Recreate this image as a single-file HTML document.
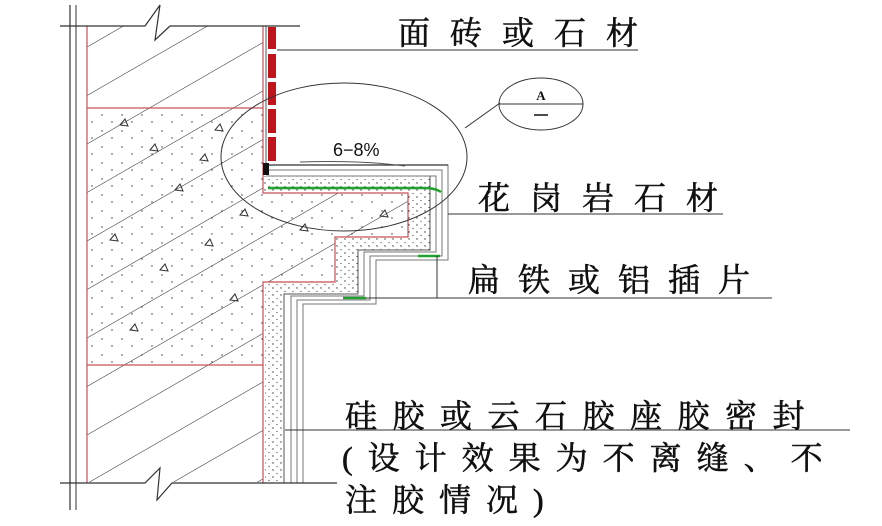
<!DOCTYPE html>
<html><head><meta charset="utf-8"><style>
html,body{margin:0;padding:0;background:#fff;}
svg{display:block;}
.t{font-family:"Liberation Serif","Noto Serif CJK SC","Noto Sans CJK SC",serif;font-size:32px;fill:#111;stroke:#111;stroke-width:0.6;}
</style></head><body>
<svg width="882" height="526" viewBox="0 0 882 526" xmlns="http://www.w3.org/2000/svg">
<defs>
<pattern id="hatch" patternUnits="userSpaceOnUse" width="40" height="42" patternTransform="rotate(-30)">
<line x1="0" y1="0" x2="40" y2="0" stroke="#222" stroke-width="1"/>
</pattern>
<pattern id="dots" patternUnits="userSpaceOnUse" width="20" height="16">
<circle cx="2" cy="3" r="0.7" fill="#333"/><circle cx="12" cy="10" r="0.7" fill="#333"/>
</pattern>
<pattern id="mortar" patternUnits="userSpaceOnUse" width="8" height="7">
<circle cx="1" cy="1" r="0.7" fill="#333"/><circle cx="5" cy="4.5" r="0.6" fill="#444"/>
</pattern>
<clipPath id="wallclip"><polygon points="87,26 263,26 263,193 408,193 408,237 335,237 335,282 263,282 263,482 87,482"/></clipPath>
</defs>
<line x1="70" y1="5" x2="70" y2="510" stroke="#333" stroke-width="1.2"/>
<line x1="76" y1="5" x2="76" y2="510" stroke="#333" stroke-width="1"/>
<g clip-path="url(#wallclip)">
<rect x="80" y="20" width="340" height="470" fill="url(#hatch)"/>
<rect x="87" y="108" width="330" height="257" fill="url(#dots)"/>
<g fill="none" stroke="#333" stroke-width="1">
<path d="M120,125l5,-6l3,7z"/><path d="M175,190l5,-6l3,7z"/><path d="M215,130l5,-6l3,7z"/><path d="M110,240l5,-6l3,7z"/><path d="M160,270l5,-6l3,7z"/><path d="M230,300l5,-6l3,7z"/><path d="M130,330l5,-6l3,7z"/><path d="M200,160l5,-6l3,7z"/><path d="M240,215l5,-6l3,7z"/><path d="M300,230l5,-6l3,7z"/><path d="M150,150l5,-6l3,7z"/><path d="M205,245l5,-6l3,7z"/><path d="M380,216l5,-6l3,7z"/>
</g>
</g>
<g stroke="#c9505a" fill="none" stroke-width="1.2">
<line x1="87" y1="26" x2="87" y2="483"/>
<line x1="87" y1="108" x2="263" y2="108"/>
<line x1="87" y1="365" x2="263" y2="365"/>
<polyline points="263,26 263,193 408,193 408,237 335,237 335,282 263,282 263,483"/>
</g>
<polygon points="263,176 430,176 430,250 358,250 358,294 283,294 283,482 265,482 265,282 335,282 335,237 408,237 408,193 263,193" fill="url(#mortar)"/>
<g fill="none" stroke="#777" stroke-width="1">
<polyline points="263,165 448,165 448,260 376,260 376,304 303,304 303,483"/>
<polyline points="263,170 442,170 442,256 370,256 370,300 297,300 297,483"/>
<polyline points="266,176 436,176 436,252 364,252 364,296 291,296 291,483"/>
<polyline points="430,176 430,250 358,250 358,294 284,294 284,483" stroke="#555"/>
</g>
<line x1="263" y1="165" x2="448" y2="165" stroke="#333" stroke-width="1.2"/>
<line x1="266" y1="26" x2="266" y2="165" stroke="#555" stroke-width="1"/>
<g fill="#c0141c">
<rect x="268" y="27" width="8" height="22"/><rect x="268" y="54" width="8" height="24"/><rect x="268" y="82" width="8" height="23"/><rect x="268" y="109" width="8" height="24"/><rect x="268" y="137" width="8" height="24"/>
</g>
<rect x="263" y="163" width="6" height="12" fill="#111"/>
<g stroke="#22a030" stroke-width="2.5" fill="none">
<path d="M268,188 L425,188 Q435,188 441,192"/>
<line x1="418" y1="256" x2="440" y2="256"/>
<line x1="343" y1="298" x2="366" y2="298"/>
</g>
<g stroke="#333" stroke-width="1.2" fill="none">
<polyline points="60,26 145,26 160,5 155,40 170,26 300,26"/>
<polyline points="60,483 145,483 160,468 157,500 172,483 337,483"/>
</g>
<ellipse cx="344" cy="157" rx="123" ry="74" fill="none" stroke="#333" stroke-width="1"/>
<line x1="465" y1="128" x2="500" y2="103" stroke="#333" stroke-width="1"/>
<ellipse cx="541" cy="104" rx="42" ry="26" fill="none" stroke="#333" stroke-width="1"/>
<line x1="499" y1="104" x2="583" y2="104" stroke="#333" stroke-width="1"/>
<text x="541" y="100" text-anchor="middle" font-family="Liberation Serif,serif" font-weight="bold" font-size="13" fill="#111">A</text>
<line x1="534" y1="115" x2="548" y2="115" stroke="#111" stroke-width="1.5"/>
<text x="333" y="156" font-family="Liberation Sans,sans-serif" font-size="18" fill="#111">6−8%</text>
<path d="M300,162 Q360,160 405,166" fill="none" stroke="#555" stroke-width="1"/>
<g stroke="#333" stroke-width="1" fill="none">
<line x1="277" y1="50" x2="638" y2="50"/>
<line x1="448" y1="214" x2="723" y2="214"/>
<line x1="437" y1="256" x2="437" y2="298"/>
<line x1="366" y1="298" x2="772" y2="298"/>
<line x1="285" y1="430" x2="850" y2="430"/>
</g>
<text class="t" x="398" y="44" letter-spacing="20">面砖或石材</text>
<text class="t" x="478" y="209" letter-spacing="20">花岗岩石材</text>
<text class="t" x="468" y="291" letter-spacing="18">扁铁或铝插片</text>
<text class="t" x="345" y="427" letter-spacing="15.5">硅胶或云石胶座胶密封</text>
<text class="t" x="342" y="469" letter-spacing="15">(设计效果为不离缝、不</text>
<text class="t" x="345" y="511" letter-spacing="15">注胶情况)</text>
</svg>
</body></html>
